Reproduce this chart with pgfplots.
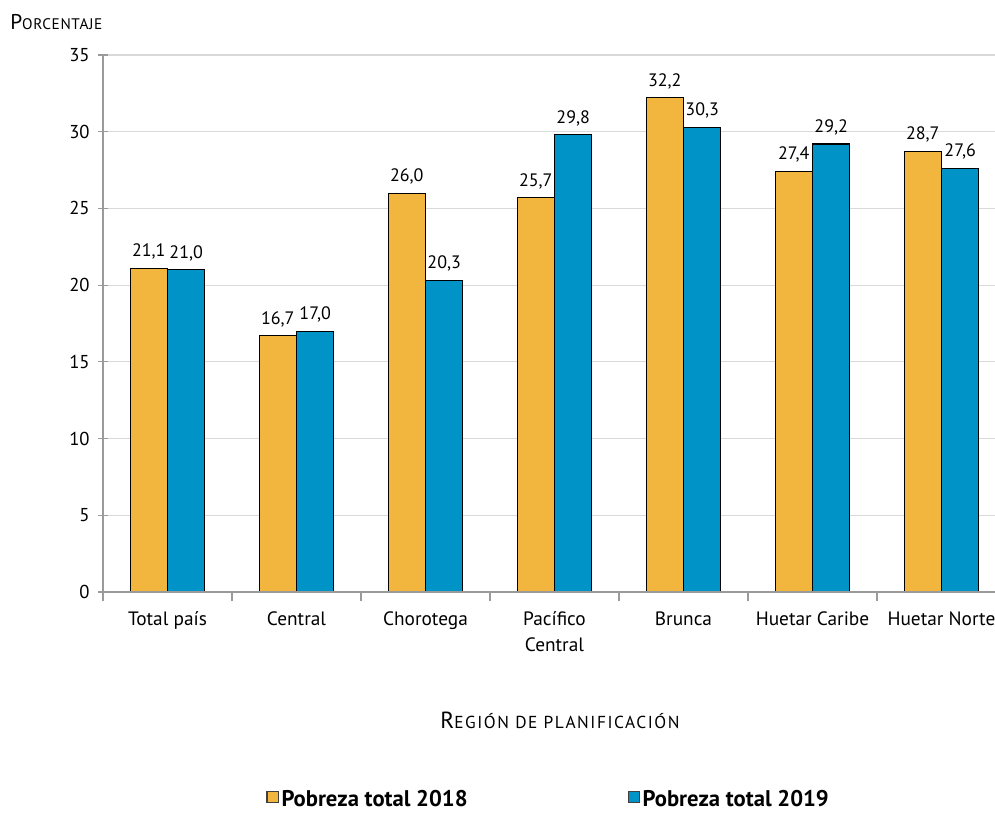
\documentclass[border=0pt]{standalone}
\usepackage{pgfplots}
\pgfplotsset{compat=1.18}
\usepackage{fontspec}
\setmainfont{PT Sans}
\definecolor{cOr}{HTML}{F2B53D}
\definecolor{cBl}{HTML}{0093C8}
\definecolor{axgray}{HTML}{9A9A9A}
\definecolor{grid}{HTML}{D9D9D9}
\begin{document}
\begin{tikzpicture}[x=0.75pt,y=0.75pt]
\path[use as bounding box] (-103,-221) rectangle (892,592);
\begin{axis}[
  at={(0,0)}, anchor=south west,
  scale only axis,
  width=669pt, height=402.75pt,
  ybar=0pt, bar width=0.29,
  xmin=-0.5, xmax=6.415,
  ymin=0, ymax=35,
  ytick={0,5,...,35},
  xtick={-0.5,0.5,...,5.5},
  xticklabels={},
  xtick style={draw=axgray, line width=0.8pt},
  major tick length=7pt,
  extra x ticks={0,...,6},
  extra x tick labels={Total país,Central,Chorotega,{Pacífico\\Central},Brunca,Huetar Caribe,Huetar Norte},
  extra x tick style={major tick length=0pt, tick style={draw=none},
    tick label style={align=center, font=\fontsize{14.5}{19.5}\selectfont, yshift=-11pt}},
  y tick label style={font=\fontsize{14}{15}\selectfont, xshift=-3pt},
  ytick style={draw=axgray, line width=0.8pt},
  ytick align=center,
  xtick align=outside,
  ymajorgrids, grid style={draw=grid, line width=0.8pt},
  axis x line*=bottom, axis y line*=left,
  axis line style={draw=axgray, line width=1.2pt, -},
  /pgf/number format/assume math mode=true,
  nodes near coords,
  nodes near coords style={font=\fontsize{13.5}{15}\selectfont, yshift=3pt,
    /pgf/number format/.cd, fixed, fixed zerofill, precision=1, use comma},
  legend style={at={(0.5,-0.387)}, anchor=center, draw=none, legend columns=2,
    font=\bfseries\fontsize{17}{18}\selectfont,
    /tikz/every even column/.append style={column sep=118pt}},
  legend image code/.code={\draw[#1, draw=black!75, line width=0.8pt] (0pt,-2pt) rectangle (8.5pt,6.5pt);},
  clip=false,
]
\addplot[fill=cOr, draw=black, line width=0.8pt] coordinates {(0,21.1) (1,16.7) (2,26.0) (3,25.7) (4,32.2) (5,27.4) (6,28.7)};
\addplot[fill=cBl, draw=black, line width=0.8pt] coordinates {(0,21.0) (1,17.0) (2,20.3) (3,29.8) (4,30.3) (5,29.2) (6,27.6)};
\legend{Pobreza total 2018,Pobreza total 2019}
\draw[axgray, line width=1.2pt] (axis cs:-0.5,0) -- (axis cs:6.415,0);
\end{axis}
\node[anchor=west, inner sep=0pt] at (-93,570) {{\fontsize{16}{18}\selectfont P}{\addfontfeature{LetterSpace=4}\fontsize{11.5}{12}\selectfont ORCENTAJE}};
\node[inner sep=0pt] at (457,-128) {{\fontsize{17.5}{20}\selectfont R}{\addfontfeature{LetterSpace=9}\fontsize{13}{15}\selectfont EGIÓN DE PLANIFICACIÓN}};
\end{tikzpicture}
\end{document}
